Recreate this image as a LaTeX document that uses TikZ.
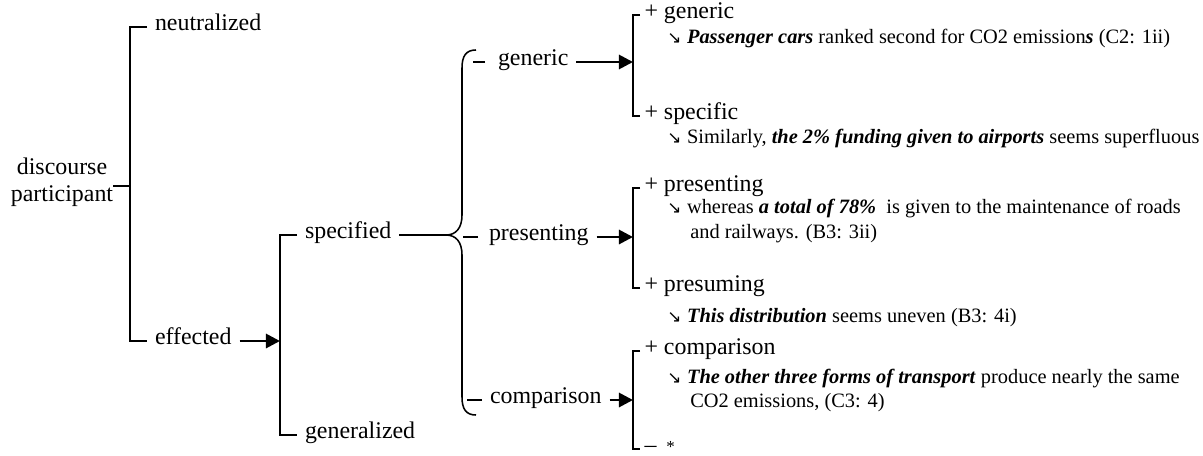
\documentclass[tikz,border=0pt]{standalone}
\usepackage{fontspec}
\setmainfont{Liberation Serif}
\newfontfamily\symfont{DejaVu Sans}
\usetikzlibrary{arrows.meta}

\newcommand{\exarrow}{{\symfont\fontsize{12}{12}\selectfont ↘}\hspace{4pt}}
\newcommand{\bi}[1]{\textbf{\textit{#1}}}

\begin{document}
\begin{tikzpicture}[
        x=0.025cm, y=-0.025cm,
        term/.style={inner xsep=5.5pt, inner ysep=0pt, anchor=mid west, font=\fontsize{17}{19}\selectfont},
        feature/.style={inner xsep=3pt, inner ysep=0pt, anchor=mid west, font=\fontsize{17}{19}\selectfont},
        example/.style={inner sep=0pt, anchor=base west, font=\fontsize{14.5}{17}\selectfont},
        bracket/.style={line width=1.4pt},
        brace/.style={line width=1.1pt},
        arr/.style={line width=2pt, -{Triangle[length=10pt, width=10pt]}}
    ]

    \useasboundingbox (0,0) rectangle (1203,455);

    % Discourse participant
    \node[term, anchor=center, inner sep=0pt, align=center] (dp) at (62,182) {discourse\\participant};

    % First system: neutralized / effected
    \node[term] (neutral) at (147,27) {neutralized};
    \node[term] (effected) at (147,341) {effected};
    \coordinate (s1) at (130,186);
    \draw[bracket] (dp.east |- s1) -- (s1);
    \draw[bracket] (neutral.mid west) -| (s1) |- (effected.mid west);

    % Second system: specified / generalized
    \node[term] (specified) at (297,235) {specified};
    \node[term] (generalized) at (297,435) {generalized};
    \coordinate (s2) at (280,341);
    \draw[bracket] (specified.mid west) -| (s2) |- (generalized.mid west);
    \draw[arr] (effected.mid east) -- (effected.mid east -| s2);

    % Third system (brace): generic / presenting / comparison
    \node[term] (generic) at (490,62) {generic};
    \node[term] (presenting) at (481,237) {presenting};
    \node[term] (comparison) at (482,400) {comparison};
    \coordinate (brtip) at (446,235);
    \draw[bracket] (specified.mid east) -- (brtip);
    \draw[brace] (476,50) .. controls (466,50) and (462,56) .. (462,68) -- (462,215)
        .. controls (462,228) and (456,235) .. (brtip)
        .. controls (456,235) and (462,242) .. (462,255) -- (462,397)
        .. controls (462,409) and (466,415) .. (476,415);
    \draw[bracket] (generic.mid west) ++(-5,0) -- ++(-12,0);
    \draw[bracket] (presenting.mid west) ++(-3,0) -- ++(-15,0);
    \draw[bracket] (comparison.mid west) ++(0,0) -- ++(-15,0);

    % Features with examples
    \coordinate (t) at (633,0);

    % generic
    \node[feature] (pgeneric) at (640,15) {+ generic};
    \node[feature] (pspecific) at (640,116) {+ specific};
    \draw[bracket] (pgeneric.mid west) -- (pgeneric.mid west -| t) -- (pspecific.mid west -| t) -- (pspecific.mid west);
    \draw[arr] (generic.mid east) -- (generic.mid east -| t);
    \node[example] (ex1) at (667,43) {\exarrow\bi{Passenger cars} ranked second for CO2 emission\bi{s} (C2: 1ii)};
    \node[example] (ex2) at (667,143) {\exarrow Similarly, \bi{the 2\% funding given to airports} seems superfluous};

    % presenting
    \node[feature] (ppresenting) at (640,188) {+ presenting};
    \node[feature] (ppresuming) at (640,288) {+ presuming};
    \draw[bracket] (ppresenting.mid west) -- (ppresenting.mid west -| t) -- (ppresuming.mid west -| t) -- (ppresuming.mid west);
    \draw[arr] (presenting.mid east) -- (presenting.mid east -| t);
    \node[example] (ex3) at (667,213) {\exarrow whereas \bi{a total of 78\%}\ \ is given to the maintenance of roads};
    \node[example] (ex3b) at (690,238) {and railways. (B3: 3ii)};
    \node[example] (ex4) at (667,322) {\exarrow\bi{This distribution} seems uneven (B3: 4i)};

    % comparison
    \node[feature] (pcomparison) at (640,351) {+ comparison};
    \node[feature] (pnone) at (640,449) {– \,{\fontsize{12}{12}\selectfont *}};
    \draw[bracket] (pcomparison.mid west) -- (pcomparison.mid west -| t) -- (pnone.mid west -| t) -- (pnone.mid west);
    \draw[arr] (comparison.mid east) -- (comparison.mid east -| t);
    \node[example] (ex5) at (667,383) {\exarrow\bi{The other three forms of transport} produce nearly the same};
    \node[example] (ex5b) at (690,407) {CO2 emissions, (C3: 4)};

\end{tikzpicture}
\end{document}
